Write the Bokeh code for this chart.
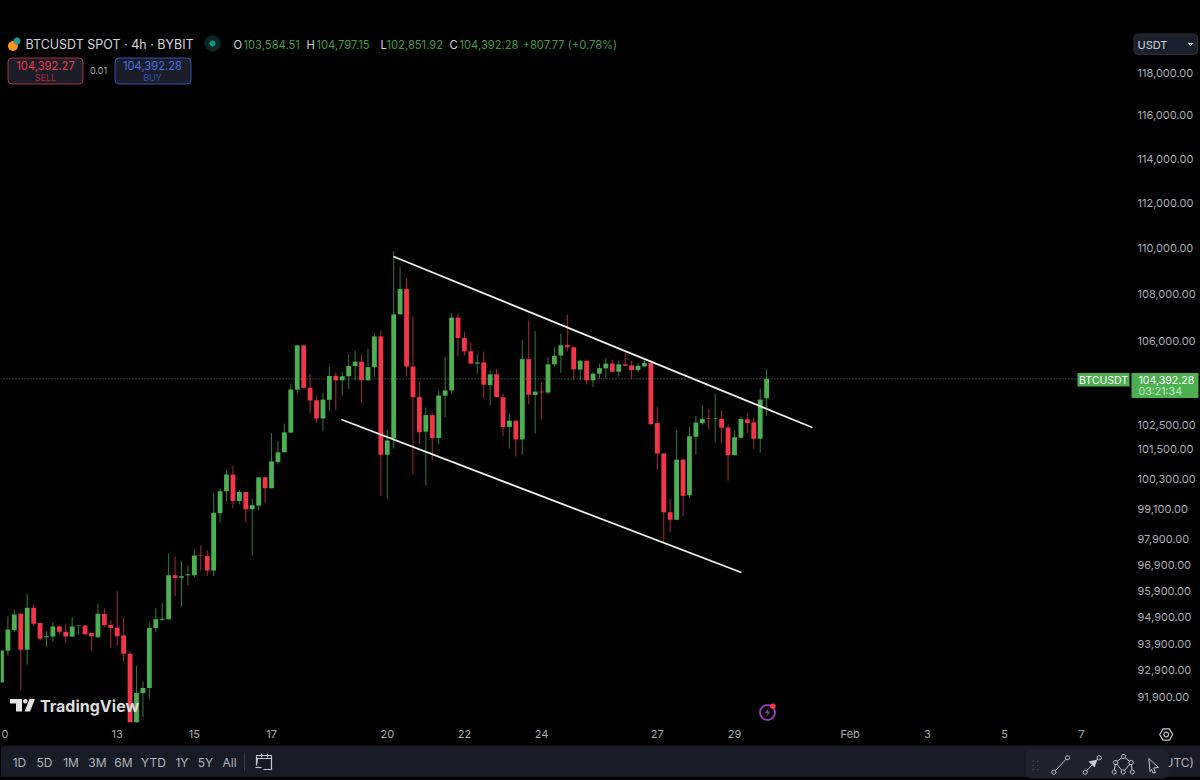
import math
from bokeh.embed import file_html
from bokeh.layouts import column
from bokeh.resources import INLINE
from bokeh.plotting import figure
from bokeh.models import (ColumnDataSource, Range1d, FixedTicker, NumeralTickFormatter, Span,
                          Label, BoxAnnotation, PolyAnnotation)

open_ = [92450,93630,94400,95030,93670,95260,94680,94140,94170,94550,94350,94170,94580,94580,94300,94140,95020,94600,94500,94210,
         93520,90900,92060,92250,94490,94800,94820,96500,96410,96500,96500,97270,97250,96690,98930,99800,100470,99410,99770,99090,
         99230,100360,99920,100970,101370,102170,103940,105800,104020,103500,102750,103520,104520,104330,104500,104930,105110,104330,104880,106180,
         101270,101930,107120,108210,104910,103630,102210,102890,101950,103690,103910,106980,106110,105550,105030,105080,104130,104580,103630,102400,
         102660,101890,105220,103720,103860,103820,105000,105370,105810,105720,104780,105140,104330,104610,104830,105030,104690,105000,104960,104760,
         104910,105050,102560,101320,98970,98670,101070,99640,102000,102560,102750,102730,102730,102380,101250,101960,102710,102590,101920,103584.51]
high = [93640,94930,95190,95030,95790,95380,94680,94370,94710,94590,94650,94900,94600,94590,94300,95410,95240,94780,95890,94880,
        93580,93060,92480,94690,95240,95430,97340,97230,97040,96890,97490,97660,97470,99740,99900,100640,100830,99860,99770,99500,
        100360,100370,102150,101820,102540,104190,105800,105800,104610,103700,103800,104910,104670,104670,105410,105580,105410,105660,106310,106440,
        102290,109850,109160,108690,107030,104260,103200,102960,103910,105300,107190,107150,106360,105910,105410,105540,104750,104800,103770,102950,
        102660,106040,106860,106410,104260,105300,105720,106290,107100,105750,105190,105160,104670,105030,105280,105190,105160,105490,105140,105030,
        105190,105190,103220,101320,99500,102260,101110,102400,102850,103300,103150,103770,103080,102510,102260,102810,102970,102780,103980,104797.15]
low = [92450,93460,94350,92160,93120,94560,94020,93770,93960,94250,93920,94140,94240,94210,93640,94110,94520,93730,93830,93210,
       90800,90800,91180,91830,94330,94740,94820,95700,95310,96110,96430,96690,96470,96470,98560,99390,99130,99280,98580,97270,
       99040,99330,99920,100880,101370,102170,103760,103990,102970,102560,102230,103080,103080,103700,103980,104330,103420,104330,104470,99610,
       99500,101520,107120,104500,100480,101690,100040,101040,101690,102800,103780,105340,105370,105000,104610,103590,103290,103620,102030,101520,
       101200,101270,103330,102130,102700,103750,104880,104630,105550,104360,104330,104160,104050,104400,104400,104660,104500,104910,104380,104650,
       104880,102470,100670,97770,98200,98670,98800,99540,101270,102500,102320,101770,101740,100230,101250,101920,102150,101510,101350,102851.92]
close = [93640,94430,95000,93670,95260,94650,94080,94180,94550,94350,94170,94550,94600,94250,94180,95030,94590,94490,94180,93520,
         90900,92060,92250,94490,94820,94840,96500,96400,96470,96540,97270,97250,96690,98950,99800,100470,99410,99770,99090,99240,
         100360,99920,101000,101370,102180,103950,105800,104020,103490,102750,103530,104510,104330,104500,104930,105110,104330,104880,106180,101270,
         101850,107120,108210,104910,103630,102190,102890,101950,103700,103910,106980,106110,105550,105030,105080,104150,104580,103630,102400,102660,
         101890,105220,103730,103860,103830,105000,105360,105800,105720,104790,105150,104330,104610,104840,105030,104690,105000,104940,104760,104940,
         105050,102520,101320,98970,98670,101070,99620,102020,102580,102730,102730,102750,102370,101250,101980,102730,102560,101920,103530,104392.28]

# days since the start of January; bars are 4h apart from 10 Jan 00:00
first_day = 10
bars_per_day = 6
tick_days = [13, 15, 17, 20, 22, 24, 27, 29, 32, 34, 36, 38]
tick_texts = ["13", "15", "17", "20", "22", "24", "27", "29", "Feb", "3", "5", "7"]
price_ticks = [118000,116000,114000,112000,110000,108000,106000,102500,101500,100300,99100,97900,96900,95900,94900,93900,92900,91900]
last_price = 104392.28
upper_line_days = [20.16, 31.02]
upper_line_prices = [109627, 102379]
lower_line_days = [18.81, 29.18]
lower_line_prices = [102707, 96610]

GREEN, RED = "#4caf50", "#f23645"
GREEN_W, RED_W = "#357a38", "#a82b3a"
TEXT = "#d1d4dc"
FONT = "Inter"

days = [first_day + i / bars_per_day for i in range(len(open_))]
is_up = [c_ >= o for o, c_ in zip(open_, close)]
src = ColumnDataSource(dict(
    x=days,
    top=[max(o, c_) for o, c_ in zip(open_, close)],
    bottom=[min(o, c_) for o, c_ in zip(open_, close)],
    high=high, low=low,
    body=[GREEN if u else RED for u in is_up],
    wick=[GREEN_W if u else RED_W for u in is_up],
))

p = figure(width=1200, height=780, output_backend="svg", toolbar_location=None,
           x_range=Range1d(9.975, 39.213), y_range=Range1d(90984, 121449),
           y_axis_type="log", y_axis_location="right",
           background_fill_color="#000000", border_fill_color="#000000",
           min_border_left=0, min_border_top=0, min_border_right=72, min_border_bottom=58)
p.outline_line_color = None
p.grid.visible = False

ax = p.yaxis[0]
ax.ticker = FixedTicker(ticks=price_ticks)
ax.formatter = NumeralTickFormatter(format="0,0.00")
ax.axis_line_color = None
ax.major_tick_line_color = None
ax.minor_tick_line_color = None
ax.major_tick_in = 0
ax.major_tick_out = 0
ax.major_label_standoff = 9
ax.major_label_text_font = FONT
ax.major_label_text_font_size = "11px"
ax.major_label_text_color = "#a9acb4"

bx = p.xaxis[0]
bx.ticker = FixedTicker(ticks=tick_days)
bx.major_label_overrides = {d: t for d, t in zip(tick_days, tick_texts)}
bx.axis_line_color = None
bx.major_tick_line_color = None
bx.minor_tick_line_color = None
bx.major_tick_in = 0
bx.major_tick_out = 0
bx.major_label_standoff = 4
bx.major_label_text_font = FONT
bx.major_label_text_font_size = "11px"
bx.major_label_text_color = "#a9acb4"

p.add_layout(Span(location=last_price, dimension="width", line_color="#6f9a72",
                  line_alpha=0.9, line_width=1, line_dash="1 2"))
p.segment("x", "high", "x", "low", source=src, line_color="wick", line_width=1)
p.vbar(x="x", top="top", bottom="bottom", width=0.125, source=src, fill_color="body", line_color=None)
p.line(upper_line_days, upper_line_prices, line_color="#eeeeee", line_width=1.8)
p.line(lower_line_days, lower_line_prices, line_color="#eeeeee", line_width=1.8)

# transparent layer for the platform's interface, in page pixels, above the chart
c = figure(width=1200, height=780, output_backend="svg", toolbar_location=None,
           x_range=Range1d(0, 1200), y_range=Range1d(780, 0),
           x_axis_location=None, y_axis_location=None,
           min_border=0, background_fill_alpha=0, border_fill_alpha=0)
c.outline_line_color = None
c.grid.visible = False

def label(text, x, y, size=11, color=TEXT, align="left", style="normal", font=FONT):
    c.add_layout(Label(x=x, y=y, text=text, text_font=font, text_font_size=f"{size}px", text_color=color,
                       text_align=align, text_baseline="middle", text_font_style=style))
def box(x0, y0, x1, y1, fill, line=None, radius=0):
    c.add_layout(BoxAnnotation(left=x0, right=x1, top=y0, bottom=y1, fill_color=fill, fill_alpha=1,
                               line_color=line, line_alpha=1, line_width=1, border_radius=radius))
def poly(pts, fill=None, line=None, width=1.0):
    c.add_layout(PolyAnnotation(xs=[a for a, _ in pts], ys=[b for _, b in pts],
                                fill_color=fill, fill_alpha=1 if fill else 0,
                                line_color=line, line_alpha=1 if line else 0, line_width=width))
def circle(cx, cy, r, fill=None, line=None, width=1.0, n=18):
    poly([(cx + r * math.cos(2 * math.pi * i / n), cy + r * math.sin(2 * math.pi * i / n)) for i in range(n)],
         fill, line, width)

# header
circle(12.5, 45.5, 5, fill="#f7931a")
circle(16.5, 40.5, 3.5, fill="#1f9e8f")
label("BTCUSDT SPOT · 4h · BYBIT", 25, 44, 12.5)
circle(212, 43, 8, fill="#0b2723")
circle(212, 43, 3, fill="#089981")
GTXT = "#439a48"
for ltr, x in [("O", 233), ("H", 306), ("L", 380), ("C", 449)]:
    label(ltr, x, 44, 11.2)
for val, x in [("103,584.51", 243), ("104,797.15", 316), ("102,851.92", 386), ("104,392.28", 459)]:
    label(val, x, 44, 11.2, GTXT)
label("+807.77 (+0.78%)", 522, 44, 11.2, GTXT)

box(7.5, 57.5, 82.5, 83.5, "#1a1d28", "#a8323f", 4)
label("104,392.27", 45, 65, 11.2, RED, "center")
label("SELL", 45, 77, 9, "#b02d3b", "center")
label("0.01", 98, 70, 9, "#a9acb4", "center")
box(114.5, 57.5, 190.5, 83.5, "#1a1d28", "#2d55b8", 4)
label("104,392.28", 152, 65, 11.2, "#3f72e8", "center")
label("BUY", 152, 77, 9, "#2f57b5", "center")

box(1133.5, 33.5, 1197, 54, "#1a1f2c", "#2a3040", 4)
label("USDT", 1137, 44, 11, "#d1d4dc")
poly([(1188, 43), (1190, 45), (1192, 43)], None, "#d1d4dc", 1)

# last price tags
box(1077, 372.5, 1129, 386, GREEN)
label("BTCUSDT", 1103, 379.5, 10.5, "#ffffff", "center")
box(1131, 372.5, 1198, 397.5, GREEN)
label("104,392.28", 1138, 379, 10.6, "#ffffff")
label("03:21:34", 1138, 391, 10.6, "#c6e8c8")

# watermark
poly([(9.5, 698.5), (21.5, 698.5), (21.5, 711), (15.5, 711), (15.5, 703), (9.5, 703)], fill="#e4e4e4")
circle(24.8, 700.8, 2.3, fill="#e4e4e4")
poly([(29, 698.5), (34.5, 698.5), (29.5, 711), (24, 711)], fill="#e4e4e4")
label("TradingView", 39.5, 705, 16, "#dcdcdc", style="bold")

# tail of the tick label cut by the left edge
label("0", 1, 733, 11, "#a9acb4")

# bolt badge
circle(767, 712, 7.5, None, "#a03cc4", 1.8)
poly([(768.5, 707.5), (764, 712.5), (767, 712.5), (765.5, 716.5), (770, 711), (767, 711)], fill="#8e3bb0")
circle(772.3, 705.7, 2.8, fill=RED)

# settings
hexa = [(1165.7 + 6.5 * math.cos(math.pi * i / 3), 734 + 6.5 * math.sin(math.pi * i / 3)) for i in range(6)]
poly(hexa, None, "#c4c7cf", 1.2)
circle(1165.7, 734, 2.4, None, "#c4c7cf", 1.2)

# bottom bar
box(0, 745, 1200, 776.5, "#171b26")
for t, x in [("1D", 19), ("5D", 44), ("1M", 70.5), ("3M", 97), ("6M", 123), ("YTD", 153), ("1Y", 181.5), ("5Y", 205), ("All", 229)]:
    label(t, x, 761.5, 12, "#b2b5be", "center")
poly([(244, 752), (244, 770)], None, "#3a3e4a", 1)
poly([(257, 758), (271, 758), (271, 769), (263, 769), (271, 769), (271, 755), (256, 755), (256, 765)], None, "#c4c7cf", 1.2)
poly([(261, 753), (261, 757)], None, "#c4c7cf", 1.2)
poly([(267, 753), (267, 757)], None, "#c4c7cf", 1.2)
poly([(255, 767), (261, 767)], None, "#c4c7cf", 1.2)

label("UTC)", 1164, 762, 12, "#b2b5be")
box(1025, 749, 1168, 778, "#1e222d", None, 6)
for gx in (1032.7, 1037.3):
    for gy in (760.7, 765, 769.3):
        circle(gx, gy, 0.8, fill="#4a4e5a", n=6)
ICON = "#c4c7cf"
def node(x, y):
    circle(x, y, 2.1, "#1e222d", ICON, 1, n=10)
poly([(1053.3, 771.7), (1067, 757.3)], None, ICON, 1)
node(1053.3, 771.7); node(1067, 757.3)
poly([(1084.7, 771.7), (1098.7, 757.3)], None, ICON, 1)
poly([(1097, 759), (1088, 761), (1094, 767)], fill=ICON)
node(1084.7, 771.7); node(1098.7, 757.3)
pat = [(1113.7, 771.5), (1122.7, 771.5), (1131.7, 771.5), (1115, 762), (1130.7, 762), (1123, 756)]
for a, b in [(0, 3), (3, 5), (5, 4), (4, 2), (3, 1), (4, 1)]:
    poly([pat[a], pat[b]], None, ICON, 1)
for q in pat:
    node(*q)
poly([(1148.3, 758), (1158, 767), (1153, 767.5), (1155, 772), (1152.5, 772.5), (1151, 769), (1149.5, 771)], None, ICON, 1)

page = column(p, column(c, margin=(-780, 0, 0, 0)), styles={"background-color": "#000000"})
open("out.html", "w").write(file_html(page, INLINE))
